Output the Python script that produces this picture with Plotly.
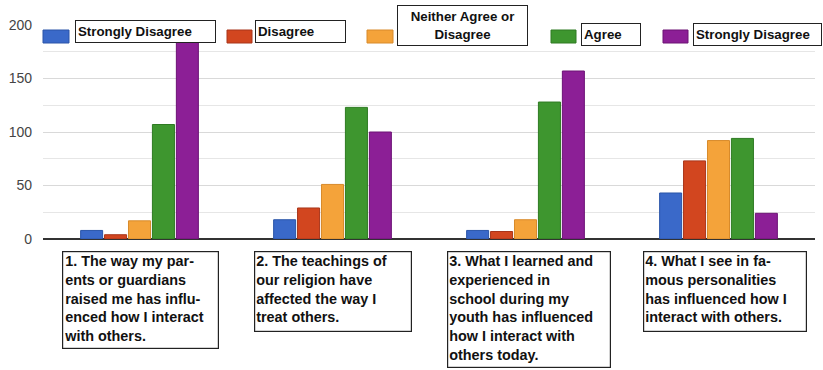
import plotly.graph_objects as go

categories = ["Q1", "Q2", "Q3", "Q4"]
series_names = ["Strongly Disagree", "Disagree", "Neither Agree or Disagree", "Agree", "Strongly Disagree (5)"]
strongly_disagree = [8, 18, 8, 43]
disagree = [4, 29, 7, 73]
neither = [17, 51, 18, 92]
agree = [107, 123, 128, 94]
strongly_agree = [190, 100, 157, 24]
legend_labels = ["Strongly Disagree", "Disagree", "Neither Agree or<br>Disagree", "Agree", "Strongly Disagree"]
category_labels = [
    "1. The way my par-<br>ents or guardians<br>raised me has influ-<br>enced how I interact<br>with others.",
    "2. The teachings of<br>our religion have<br>affected the way I<br>treat others.",
    "3. What I learned and<br>experienced in<br>school during my<br>youth has influenced<br>how I interact with<br>others today.",
    "4. What I see in fa-<br>mous personalities<br>has influenced how I<br>interact with others.",
]
y_ticks = [0, 50, 100, 150, 200]

colors = ["#3a69c9", "#d2461f", "#f4a33a", "#3e962f", "#8c1f96"]
edges = ["#2a55a8", "#a8351a", "#d88a2a", "#2e7a22", "#6c1275"]

W, H = 823, 370
L, R, T, B = 43, 8, 25, 131
PW, PH = W - L - R, H - T - B

def px(x):
    return (x - L) / PW

def py(y):
    return (H - B - y) / PH

FONT = "Arial, Liberation Sans, sans-serif"

fig = go.Figure()
values = [strongly_disagree, disagree, neither, agree, strongly_agree]
for i, vals in enumerate(values):
    fig.add_trace(go.Bar(
        x=categories, y=vals, name=series_names[i],
        marker=dict(color=colors[i], line=dict(color=edges[i], width=1)),
        showlegend=False,
    ))

shapes = []
annotations = []

# legend swatches and boxes
swatches = [(43, 69), (227, 252), (367, 393), (551, 576), (663, 688)]
boxes = [(75, 20, 216, 43), (255, 20, 346, 43), (397, 5, 528, 46), (581, 23, 641, 46), (693, 23, 822, 46)]
for i in range(5):
    x0, x1 = swatches[i]
    shapes.append(dict(type="rect", xref="paper", yref="paper",
                       x0=px(x0), x1=px(x1), y0=py(43), y1=py(30),
                       fillcolor=colors[i], line=dict(color=edges[i], width=1), layer="above"))
    bx0, by0, bx1, by1 = boxes[i]
    center = i == 2
    annotations.append(dict(
        xref="paper", yref="paper", x=px(bx0), y=py(by0), xanchor="left", yanchor="top",
        text="<b>" + legend_labels[i] + "</b>", showarrow=False,
        font=dict(family=FONT, size=13.3, color="#111"),
        align="center" if center else "left", valign="middle",
        width=bx1 - bx0 - 6, height=by1 - by0 - 6, borderpad=2,
        bgcolor="white", bordercolor="#222", borderwidth=1,
    ))

# category label boxes
cat_boxes = [(62, 251, 219, 349), (254, 251, 412, 332), (447, 251, 611, 368), (643, 251, 807, 332)]
for i, lab in enumerate(category_labels):
    bx0, by0, bx1, by1 = cat_boxes[i]
    annotations.append(dict(
        xref="paper", yref="paper", x=px(bx0), y=py(by0), xanchor="left", yanchor="top",
        text="<b>" + lab + "</b>", showarrow=False,
        font=dict(family=FONT, size=14.4, color="#111"),
        align="left", valign="top",
        width=bx1 - bx0 - 4, height=by1 - by0 - 4, borderpad=1,
        bgcolor="white", bordercolor="#222", borderwidth=1.2,
    ))

fig.update_layout(
    width=W, height=H,
    margin=dict(l=L, r=R, t=T, b=B),
    paper_bgcolor="white", plot_bgcolor="white",
    barmode="group", bargap=0.38, bargroupgap=0.08,
    shapes=shapes, annotations=annotations,
    xaxis=dict(showticklabels=False, showgrid=False, zeroline=False, showline=False, ticks=""),
    yaxis=dict(range=[0, 200], tickmode="array", tickvals=y_ticks,
               ticktext=[str(v) for v in y_ticks],
               tickfont=dict(family=FONT, size=14, color="#444"),
               showgrid=True, gridcolor="#d9d9d9", gridwidth=1,
               minor=dict(dtick=25, showgrid=True, gridcolor="#e6e6e6", gridwidth=1),
               zeroline=True, zerolinecolor="#333", zerolinewidth=1.5,
               ticks="", ticklabelstandoff=10, showline=False),
)

fig.write_html("out.html")
